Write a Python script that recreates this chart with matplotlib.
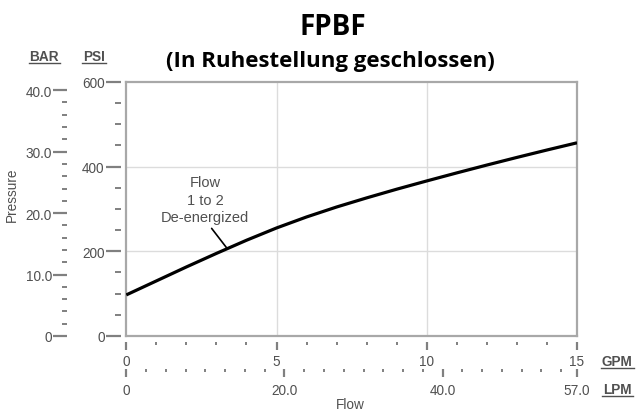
import numpy as np
import matplotlib
matplotlib.use("Agg")
import matplotlib.pyplot as plt
from matplotlib.lines import Line2D
from matplotlib.ticker import FixedLocator

# ---- data ----
flow_gpm = [0, 1, 2, 3, 4, 5, 6, 7, 8, 9, 10, 11, 12, 13, 14, 15]
pressure_psi = [97, 130, 163, 195, 226, 255, 281, 304.5, 326, 346.5, 366, 385, 403.5, 421.5, 439, 456]
psi_ticks = [0, 200, 400, 600]
bar_ticks = [0, 10, 20, 30, 40]
bar_labels = ["0", "10.0", "20.0", "30.0", "40.0"]
gpm_ticks = [0, 5, 10, 15]
lpm_ticks = [0, 20, 40, 57]
lpm_labels = ["0", "20.0", "40.0", "57.0"]
PSI_PER_BAR = 14.5038
LPM_PER_GPM = 3.8

TXT = "#505050"
TICK = "#808080"
SPINE = "#a8a8a8"
GRID = "#dcdcdc"
FONT = "Liberation Sans"
FS = 9.8

fig = plt.figure(figsize=(6.37, 4.14), dpi=100)
ax = fig.add_axes([0.1983, 0.186, 0.7075, 0.614])
ax.set_xlim(0, 15)
ax.set_ylim(0, 600)
for s in ax.spines.values():
    s.set_color(SPINE)
    s.set_linewidth(1.6)
ax.tick_params(left=False, bottom=False, labelleft=False, labelbottom=False)
for gx in (5, 10):
    ax.axvline(gx, color=GRID, lw=1.0, zorder=0)
for gy in (200, 400):
    ax.axhline(gy, color=GRID, lw=1.0, zorder=0)

ax.plot(flow_gpm, pressure_psi, color="black", lw=2.3, solid_capstyle="butt",
        solid_joinstyle="round", zorder=3)

# annotation
ax.text(2.62, 322, "Flow\n1 to 2\nDe-energized", ha="center", va="center",
        fontsize=10.5, color=TXT, family=FONT, linespacing=1.3)
px = 3.36
ax.annotate("", xy=(px, np.interp(px, flow_gpm, pressure_psi)), xytext=(2.84, 254),
            arrowprops=dict(arrowstyle="-", color="black", lw=1.2, shrinkA=0, shrinkB=0))

# PSI axis
psi_ax = ax.secondary_yaxis(-0.0118)
psi_ax.spines["left"].set_visible(False)
psi_ax.set_yticks(psi_ticks)
psi_ax.yaxis.set_minor_locator(FixedLocator([50, 100, 150, 250, 300, 350, 450, 500, 550]))
psi_ax.tick_params(which="major", length=10.8, width=1.6, color=TICK, pad=1,
                   labelsize=FS, labelcolor=TXT)
psi_ax.tick_params(which="minor", length=4.3, width=1.4, color=TICK)
for lb in psi_ax.get_yticklabels():
    lb.set_family(FONT)

# BAR axis
bar_ax = ax.secondary_yaxis(-0.131, functions=(lambda p: p / PSI_PER_BAR,
                                               lambda b: b * PSI_PER_BAR))
bar_ax.spines["left"].set_visible(False)
bar_ax.set_yticks(bar_ticks)
bar_ax.set_yticklabels(bar_labels)
bar_ax.yaxis.set_minor_locator(FixedLocator([b for b in range(2, 41, 2) if b % 10]))
bar_ax.tick_params(which="major", length=10.0, width=1.6, color=TICK, pad=1,
                   labelsize=FS, labelcolor=TXT)
bar_ax.tick_params(which="minor", length=3.6, width=1.4, color=TICK)
for lb in bar_ax.get_yticklabels():
    lb.set_family(FONT)

# GPM axis
gpm_ax = ax.secondary_xaxis(-0.0236)
gpm_ax.spines["bottom"].set_visible(False)
gpm_ax.set_xticks(gpm_ticks)
gpm_ax.xaxis.set_minor_locator(FixedLocator([g for g in range(1, 15) if g % 5]))
gpm_ax.tick_params(which="major", length=6.1, width=1.6, color=TICK, pad=2.5,
                   labelsize=FS, labelcolor=TXT)
gpm_ax.tick_params(which="minor", length=2.0, width=1.4, color=TICK)
for lb in gpm_ax.get_xticklabels():
    lb.set_family(FONT)

# LPM axis
lpm_ax = ax.secondary_xaxis(-0.13, functions=(lambda g: g * LPM_PER_GPM,
                                              lambda l: l / LPM_PER_GPM))
lpm_ax.spines["bottom"].set_visible(False)
lpm_ax.set_xticks(lpm_ticks)
lpm_ax.set_xticklabels(lpm_labels)
lpm_ax.xaxis.set_minor_locator(FixedLocator([v for v in np.arange(2.5, 56, 2.5) if v % 20]))
lpm_ax.tick_params(which="major", length=6.1, width=1.6, color=TICK, pad=4,
                   labelsize=FS, labelcolor=TXT)
lpm_ax.tick_params(which="minor", length=2.0, width=1.4, color=TICK)
for lb in lpm_ax.get_xticklabels():
    lb.set_family(FONT)

W, H = 637.0, 414.0


def fx(p):
    return p / W


def fy(p):
    return 1 - p / H


def ulabel(x, y, s, w):
    fig.text(fx(x), fy(y), s, ha="center", va="center", fontsize=FS, color=TXT,
             family=FONT, fontweight="bold")
    fig.add_artist(Line2D([fx(x - w / 2), fx(x + w / 2)], [fy(y + 6.5), fy(y + 6.5)],
                          color=TXT, lw=1.0))


ulabel(44, 57, "BAR", 31)
ulabel(94, 57, "PSI", 24)
ulabel(617, 362, "GPM", 33)
ulabel(617, 390, "LPM", 31)

fig.text(fx(12), fy(195), "Pressure", rotation=90, ha="center", va="center",
         fontsize=FS, color=TXT, family=FONT)
fig.text(fx(350), fy(405), "Flow", ha="center", va="center",
         fontsize=FS, color=TXT, family=FONT)

fig.text(fx(333), fy(35), "FPBF", ha="center", va="baseline", fontsize=20,
         fontweight="bold", family="Open Sans", color="black")
fig.text(fx(330), fy(67), "(In Ruhestellung geschlossen)", ha="center", va="baseline",
         fontsize=16, fontweight="bold", family="Open Sans", color="black")

fig.savefig("out.png", dpi=100)
